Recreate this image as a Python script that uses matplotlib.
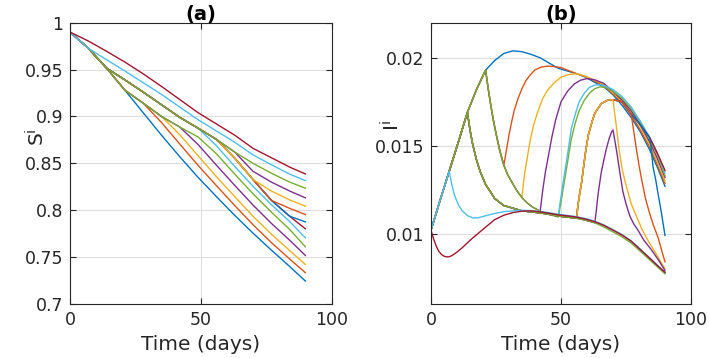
import matplotlib
matplotlib.use("Agg")
import matplotlib.pyplot as plt

# ---------------- colours (MATLAB default order) ----------------
colors = ['#0072BD', '#D95319', '#EDB120', '#7E2F8E', '#77AC30', '#4DBEEE', '#A2142F']

# ---------------- panel (a): S^i, knots every 7 days ----------------
t_a = [0, 7, 14, 21, 28, 35, 42, 49, 56, 63, 70, 77, 84, 90]
S_1 = [0.990, 0.9728, 0.9515, 0.928, 0.904, 0.880, 0.857, 0.835, 0.8145, 0.7945, 0.7755, 0.7575, 0.740, 0.7245]
S_2 = [0.990, 0.9728, 0.9515, 0.928, 0.9142, 0.8935, 0.8705, 0.8478, 0.8262, 0.805, 0.7845, 0.7655, 0.748, 0.7334]
S_3 = [0.990, 0.9728, 0.9515, 0.928, 0.9142, 0.900, 0.8805, 0.858, 0.8358, 0.8145, 0.7935, 0.7745, 0.757, 0.7422]
S_4 = [0.990, 0.9728, 0.9515, 0.928, 0.9142, 0.900, 0.8887, 0.870, 0.848, 0.8265, 0.8055, 0.786, 0.768, 0.7518]
S_5 = [0.990, 0.9728, 0.9515, 0.928, 0.9142, 0.900, 0.8887, 0.8781, 0.8602, 0.8385, 0.8175, 0.798, 0.7795, 0.761]
S_6 = [0.990, 0.9728, 0.9515, 0.939, 0.926, 0.9125, 0.899, 0.8875, 0.8688, 0.8467, 0.8255, 0.806, 0.788, 0.7706]
S_7 = [0.990, 0.9728, 0.9515, 0.939, 0.926, 0.9125, 0.899, 0.8875, 0.8755, 0.8555, 0.8327, 0.8106, 0.7936, 0.7802]
S_8 = [0.990, 0.9728, 0.9515, 0.939, 0.926, 0.9125, 0.899, 0.8875, 0.8755, 0.8555, 0.8327, 0.8106, 0.7936, 0.7876]
S_9 = [0.990, 0.9728, 0.9515, 0.939, 0.926, 0.9125, 0.899, 0.8875, 0.8755, 0.8555, 0.8327, 0.8106, 0.802, 0.7954]
S_10 = [0.990, 0.9728, 0.9515, 0.939, 0.926, 0.9125, 0.899, 0.8875, 0.8755, 0.8555, 0.8327, 0.8205, 0.811, 0.8043]
S_11 = [0.990, 0.9728, 0.9515, 0.939, 0.926, 0.9125, 0.899, 0.8875, 0.8755, 0.862, 0.8415, 0.830, 0.8205, 0.8132]
S_12 = [0.990, 0.9728, 0.9515, 0.939, 0.926, 0.9125, 0.899, 0.8875, 0.8755, 0.862, 0.850, 0.8395, 0.830, 0.8235]
S_13 = [0.990, 0.9728, 0.9605, 0.9485, 0.936, 0.9235, 0.910, 0.8965, 0.8845, 0.8725, 0.859, 0.8485, 0.8385, 0.8316]
S_14 = [0.990, 0.9805, 0.9695, 0.958, 0.9455, 0.932, 0.918, 0.904, 0.892, 0.880, 0.866, 0.856, 0.846, 0.8387]
S_curves = [S_1, S_2, S_3, S_4, S_5, S_6, S_7, S_8, S_9, S_10, S_11, S_12, S_13, S_14]

# ---------------- panel (b): I^i, path segments ----------------
t_ni = [0, 3.5, 7, 10.5, 14, 17.5, 21, 24.5, 28, 31.5, 35, 38.5, 42, 45.5, 49, 52.5, 56, 59.5, 63, 66.5, 70, 73.5, 77, 80.5, 84, 87, 90]
I_ni = [.0102, .0119, .01355, .0152, .0169, .0182, .0193, .01985, .02025, .0204, .02035, .0202, .0200, .0197, .0194, .01925, .0191, .0189, .0186, .01835, .0179, .0173, .0166, .0158, .0148, .0138, .0127]

t_int0 = [0, 1, 2, 3, 4, 5, 6, 7, 8, 10, 12, 14, 16, 18, 21, 24.5, 28, 31.5, 35, 38.5, 42, 45.5, 49, 52.5, 56, 59.5, 63, 66.5, 70, 73.5, 77, 80.5, 84, 87, 90]
I_int0 = [.0102, .0097, .0093, .0090, .00882, .00872, .00868, .00869, .00875, .00895, .0092, .00948, .00975, .0100, .01037, .0108, .01105, .0112, .01128, .0113, .01124, .01116, .01107, .01101, .01094, .01083, .01068, .01047, .0102, .00992, .00957, .0091, .00862, .0082, .0078]

t_int7 = [7, 8, 9, 10.5, 12, 14, 16, 18, 21, 24.5, 28, 31.5, 35, 38.5, 42, 45.5, 49, 52.5, 56, 59.5, 63, 66.5, 70, 73.5, 77, 80.5, 84, 87, 90]
I_int7 = [.01355, .0128, .0122, .01165, .0113, .01103, .0109, .0109, .01102, .01115, .01125, .0113, .01133, .01131, .01126, .01119, .0111, .01104, .01097, .01086, .01071, .0105, .01023, .00995, .0096, .00912, .00864, .00822, .0078]

t_int14 = [14, 15, 16, 17.5, 19, 21, 23, 24.5, 28, 31.5, 35, 38.5, 42, 45.5, 49, 52.5, 56, 59.5, 63, 66.5, 70, 73.5, 77, 80.5, 84, 87, 90]
I_int14 = [.0169, .0159, .0151, .0142, .0135, .0128, .01235, .0120, .0116, .01145, .0113, .01124, .01118, .0111, .0110, .01094, .01088, .01076, .01062, .01038, .0101, .00982, .00947, .0090, .00853, .00812, .00772]

t_int21 = [21, 22, 23, 24, 25, 26.5, 28, 29.5, 31.5, 33, 35, 37, 39, 42, 45.5, 49]
I_int21 = [.0193, .01825, .0173, .01645, .0157, .0147, .0139, .01335, .01283, .01245, .01205, .01175, .01152, .01128, .01108, .01095]

t_r28 = [28, 28.5, 29, 30, 31, 32, 33.5, 35, 36.5, 38, 40, 42.5, 45, 47.5, 50, 52.5, 56, 59.5, 63, 66.5, 70, 73.5, 77, 80.5, 84, 87, 90]
I_r28 = [.0139, .0143, .01475, .0156, .01635, .0170, .0177, .01825, .0187, .0190, .01932, .01948, .01953, .0195, .01945, .0193, .0191, .01893, .01868, .0184, .01795, .01745, .01675, .0159, .01495, .01395, .01285]

t_r35 = [35, 35.5, 36, 37, 38, 39.5, 41, 43, 45, 47.5, 50, 53, 56, 59.5, 63, 66.5, 70, 73.5, 77, 80.5, 84, 87, 90]
I_r35 = [.01205, .0128, .0134, .0143, .0152, .0162, .0169, .0177, .0182, .0186, .0189, .01905, .0191, .01895, .01873, .01848, .0180, .01755, .0169, .0161, .0151, .0141, .0130]

t_r42 = [42, 42.5, 43, 44, 45, 46.5, 48, 50, 52.5, 55, 57.5, 60, 63, 66.5, 70, 73.5, 77, 80.5, 84, 87, 90]
I_r42 = [.01128, .0119, .0125, .0135, .0143, .0155, .0165, .0175, .0181, .0185, .01873, .01882, .01875, .01855, .01808, .0176, .0170, .0162, .01525, .0143, .0132]

t_r49g = [49, 49.5, 50, 51, 52, 53, 54, 55.5, 57, 59, 61, 63, 65, 67, 70, 73.5, 77, 80.5, 84, 87, 90]
I_r49g = [.01095, .0114, .0118, .0127, .0136, .0145, .0154, .0163, .0170, .0176, .0180, .01825, .01835, .01833, .0181, .0177, .0171, .01635, .0154, .0145, .0133]

t_r49l = [49, 49.5, 50, 51, 52, 53, 54, 55.5, 57, 59, 61, 63, 65, 67, 70, 73.5, 77, 80.5, 84, 87, 90]
I_r49l = [.0110, .0116, .0121, .0131, .0140, .0150, .0160, .0168, .0175, .0180, .01833, .01845, .01847, .0184, .0182, .0178, .0172, .0164, .0155, .0146, .01345]

t_r56 = [56, 56.5, 57, 58, 58.5, 59.5, 60.5, 62, 63, 65.5, 68, 70, 73.5, 77, 80.5, 84, 87, 90]
I_r56 = [.01088, .0116, .0121, .0130, .0136, .0147, .0156, .0164, .01685, .0174, .0176, .01762, .0175, .0168, .0162, .0155, .0146, .0136]

t_d70 = [70, 70.5, 71.3, 72, 72.6, 73.5, 74.5, 75.5, 77, 79, 81, 83.5, 86, 88, 90]
I_d70 = [.01762, .0170, .0161, .0152, .0145, .0137, .01305, .0125, .0117, .0110, .0103, .0096, .0090, .0085, .0080]

t_d77 = [77, 78, 79, 80, 81, 82.5, 84, 85.5, 87.3, 89, 90]
I_d77 = [.0168, .0158, .0148, .0139, .0131, .0120, .0112, .0105, .0098, .0089, .0084]

t_d84 = [84, 84.5, 85.4, 86.5, 87.3, 88.5, 90]
I_d84 = [.0155, .0151, .0138, .0130, .0123, .0113, .0099]

t_r63 = [63, 63.5, 64, 64.5, 65.5, 66.5, 67.4, 68.5, 69.5, 70]
I_r63 = [.01062, .0112, .0119, .0125, .0135, .0142, .0148, .0154, .0158, .0159]

t_d70b = [70, 70.7, 71.5, 72.5, 73.8, 75, 76.5, 78, 79.6, 82, 84.7, 87.5, 90]
I_d70b = [.0159, .0153, .0146, .0136, .0124, .0117, .0110, .01055, .0102, .0096, .0091, .0085, .0079]

NI = (t_ni, I_ni); INT0 = (t_int0, I_int0); INT7 = (t_int7, I_int7); INT14 = (t_int14, I_int14)
INT21 = (t_int21, I_int21); R28 = (t_r28, I_r28); R35 = (t_r35, I_r35); R42 = (t_r42, I_r42)
R49G = (t_r49g, I_r49g); R49L = (t_r49l, I_r49l); R56 = (t_r56, I_r56)
D70 = (t_d70, I_d70); D77 = (t_d77, I_d77); D84 = (t_d84, I_d84); R63 = (t_r63, I_r63); D70B = (t_d70b, I_d70b)

# each curve: list of (segment, from, to)
I_recipes = [
    [(NI, 0, 90)],
    [(NI, 0, 21), (INT21, 21, 28), (R28, 28, 90)],
    [(NI, 0, 21), (INT21, 21, 35), (R35, 35, 90)],
    [(NI, 0, 21), (INT21, 21, 42), (R42, 42, 90)],
    [(NI, 0, 21), (INT21, 21, 49), (R49G, 49, 90)],
    [(NI, 0, 14), (INT14, 14, 49), (R49L, 49, 90)],
    [(NI, 0, 14), (INT14, 14, 56), (R56, 56, 90)],
    [(NI, 0, 14), (INT14, 14, 56), (R56, 56, 84), (D84, 84, 90)],
    [(NI, 0, 14), (INT14, 14, 56), (R56, 56, 77), (D77, 77, 90)],
    [(NI, 0, 14), (INT14, 14, 56), (R56, 56, 70), (D70, 70, 90)],
    [(NI, 0, 14), (INT14, 14, 63), (R63, 63, 70), (D70B, 70, 90)],
    [(NI, 0, 14), (INT14, 14, 90)],
    [(NI, 0, 7), (INT7, 7, 90)],
    [(INT0, 0, 90)],
]


def build(recipe):
    ts, vs = [], []
    for (st, sv), a, b in recipe:
        for t, v in zip(st, sv):
            if a <= t <= b:
                if ts and t <= ts[-1]:
                    continue
                ts.append(t)
                vs.append(v)
    return ts, vs


plt.rcParams['font.family'] = ['DejaVu Sans']
fig = plt.figure(figsize=(7.09, 3.58), dpi=100)
axA = fig.add_axes([0.0987, 0.1508, 0.3689, 0.7858])
axB = fig.add_axes([0.6079, 0.1508, 0.3667, 0.7858])

lw = 1.0
for k, S in enumerate(S_curves):
    axA.plot(t_a, S, color=colors[k % 7], lw=lw)
for k, rec in enumerate(I_recipes):
    ts, vs = build(rec)
    axB.plot(ts, vs, color=colors[k % 7], lw=lw)

edge = '#262626'
for ax in (axA, axB):
    ax.set_xlim(0, 100)
    ax.set_xticks([0, 50, 100])
    ax.grid(True, color='#dedede', lw=0.8)
    ax.set_axisbelow(True)
    ax.tick_params(direction='in', length=4, width=0.8, top=True, right=True,
                   labelsize=12.5, colors=edge, pad=5)
    for sp in ax.spines.values():
        sp.set_color(edge)
        sp.set_linewidth(0.8)
    ax.set_xlabel('Time (days)', fontsize=14.5, color=edge, labelpad=4)

axA.set_ylim(0.7, 1.0)
axA.set_yticks([0.7, 0.75, 0.8, 0.85, 0.9, 0.95, 1.0])
axA.set_yticklabels(['0.7', '0.75', '0.8', '0.85', '0.9', '0.95', '1'])
axA.set_ylabel(r'S$^{\mathregular{i}}$', fontsize=14.5, color=edge)
axA.yaxis.set_label_coords(-0.082, 0.592)
axA.set_title('(a)', fontsize=14, fontweight='bold', pad=2)

axB.set_ylim(0.006, 0.022)
axB.set_yticks([0.01, 0.015, 0.02])
axB.set_yticklabels(['0.01', '0.015', '0.02'])
axB.set_ylabel(r'I$^{\mathregular{i}}$', fontsize=14.5, color=edge)
axB.yaxis.set_label_coords(-0.105, 0.633)
axB.set_title('(b)', fontsize=14, fontweight='bold', pad=2)

fig.savefig('out.png', dpi=100)
